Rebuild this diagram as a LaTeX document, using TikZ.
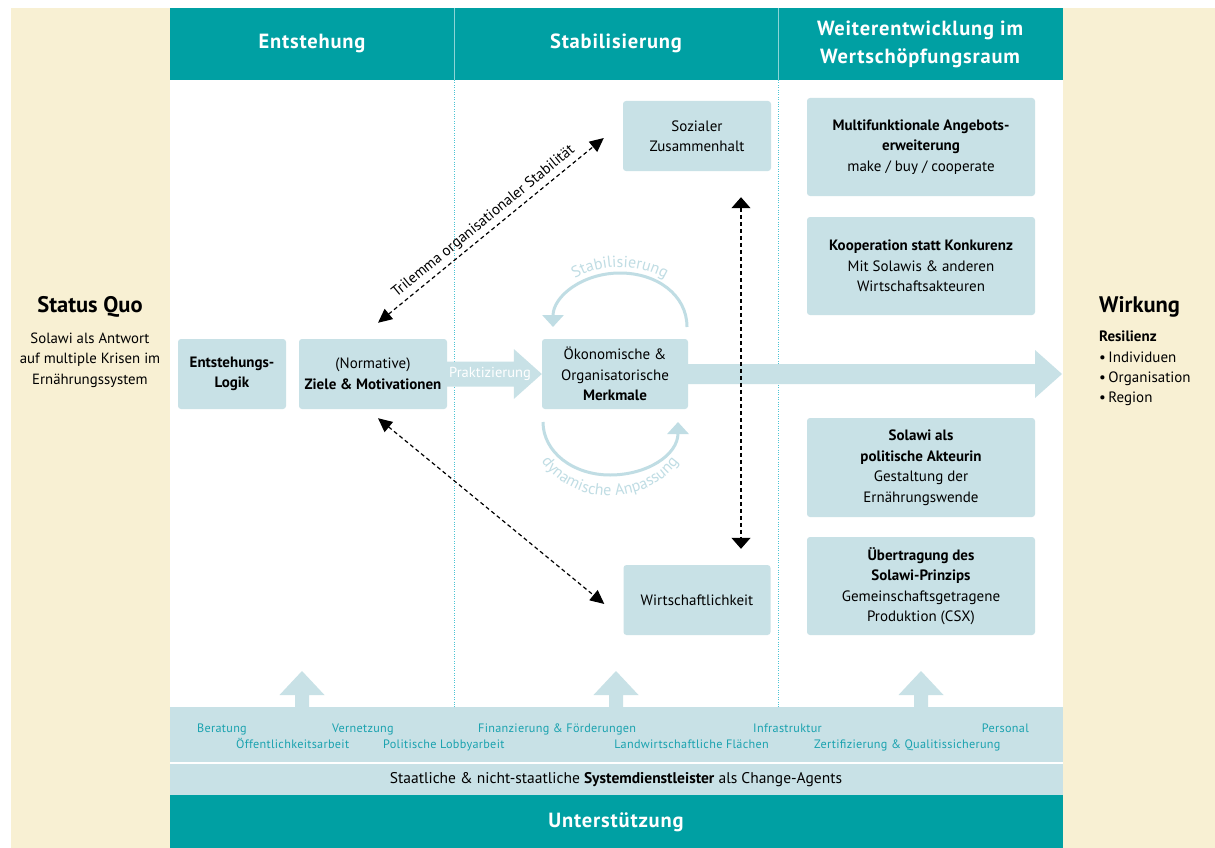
\documentclass[tikz,border=0pt]{standalone}
\usepackage{fontspec}
\setmainfont{PT Sans}
\newfontfamily\spaced[LetterSpace=4]{PT Sans}
\newfontfamily\spacedl[LetterSpace=2.5]{PT Sans}
\usetikzlibrary{arrows.meta,decorations.text,calc}
\definecolor{tealA}{HTML}{00A0A3}
\definecolor{lb}{HTML}{C8E1E6}
\definecolor{beigeA}{HTML}{F8F0D3}
\definecolor{bandtext}{HTML}{1AA2AF}
\definecolor{arcblue}{HTML}{C0DDE4}
\definecolor{dotc}{HTML}{4CC4D4}
\newcommand\boxfont{\fontsize{15}{20.5}\selectfont}
\newcommand\headfont{\spaced\bfseries\fontsize{20.5}{28}\selectfont}
\newcommand\bandfont{\spacedl\fontsize{12.2}{14}\selectfont}
\newcommand\arcfnt{\fontsize{16}{16}\selectfont\color{arcblue}}
\tikzset{
  box/.style={fill=lb, rounded corners=3pt, inner sep=0pt, align=center, font=\boxfont},
  headtext/.style={text=white, font=\headfont, align=center, inner sep=0pt},
  bandlabel/.style={text=bandtext, font=\bandfont, inner sep=0pt, anchor=base west},
  dasharrow/.style={black, line width=1.2pt, dash pattern=on 4pt off 3pt,
     {Triangle[length=14pt,width=13pt]}-{Triangle[length=14pt,width=13pt]}},
  vdasharrow/.style={black, line width=1.2pt, dash pattern=on 4pt off 3pt,
     {Triangle[length=11pt,width=19pt]}-{Triangle[length=11pt,width=19pt]}},
  arcarrow/.style={arcblue, line width=3pt, -{Triangle[length=12pt,width=21pt]}},
  divline/.style={dotc, line width=0.7pt, dash pattern=on 0.8pt off 1.6pt}
}
\begin{document}
\begin{tikzpicture}[x=1pt,y=-1pt]
\useasboundingbox (0,0) rectangle (1215,848);
\fill[white] (0,0) rectangle (1215,848);
% side columns
\fill[beigeA] (11,8) rectangle (170,848);
\fill[beigeA] (1063,8) rectangle (1215,848);
% header
\fill[tealA] (170,8) rectangle (1063,80);
\draw[white!55!tealA, line width=0.8pt] (454,8) -- (454,80) (778,8) -- (778,80);
\draw[divline] (454,80) -- (454,707) (778,80) -- (778,707);
\node[headtext] (h1) at (312,43) {Entstehung};
\node[headtext] (h2) at (616,43) {Stabilisierung};
\node[headtext] (h3) at (920,44) {Weiterentwicklung im\\Wertschöpfungsraum};
% bottom bands
\fill[lb] (170,707) rectangle (1063,762);
\fill[lb] (170,764) rectangle (1063,795);
\fill[tealA] (170,795) rectangle (1063,848);
\foreach \cx in {302,616,921}{
  \fill[lb] (\cx-7,708) -- (\cx-7,695) -- (\cx-22.5,695) -- (\cx,671) -- (\cx+22.5,695) -- (\cx+7,695) -- (\cx+7,708) -- cycle;
}
\node[bandlabel] (b1) at (197,732) {Beratung};
\node[bandlabel] (b2) at (332,732) {Vernetzung};
\node[bandlabel] (b3) at (478,732) {Finanzierung \& Förderungen};
\node[bandlabel] (b4) at (753,732) {Infrastruktur};
\node[bandlabel, anchor=base east] (b5) at (1029,732) {Personal};
\node[bandlabel] (b6) at (236,748.5) {Öffentlichkeitsarbeit};
\node[bandlabel] (b7) at (383,748.5) {Politische Lobbyarbeit};
\node[bandlabel, anchor=base east] (b8) at (769,748.5) {Landwirtschaftliche Flächen};
\node[bandlabel] (b9) at (814,748.5) {Zertifizierung \& Qualitissicherung};
\node[font=\fontsize{15.5}{17}\selectfont, inner sep=0pt] (sd) at (616,780) {Staatliche \& nicht-staatliche \textbf{Systemdienstleister} als Change-Agents};
\node[headtext] (unt) at (616,822) {Unterstützung};
% side texts
\node[font=\bfseries\fontsize{22.5}{26}\selectfont, inner sep=0pt] (sq) at (90,307) {Status Quo};
\node[font=\fontsize{14.8}{20.5}\selectfont, align=center, inner sep=0pt] (sqt) at (90,360) {Solawi als Antwort\\auf multiple Krisen im\\Ernährungssystem};
\node[font=\bfseries\fontsize{22.5}{26}\selectfont, inner sep=0pt, anchor=west] (wk) at (1099,307) {Wirkung};
\node[font=\fontsize{15}{20.4}\selectfont, align=left, inner sep=0pt, anchor=west] (wkt) at (1099,368.5) {\textbf{Resilienz}\\\textbullet\,Individuen\\\textbullet\,Organisation\\\textbullet\,Region};
% boxes
\node[box, minimum width=108pt, minimum height=70pt] (el) at (232,374) {\textbf{Entstehungs-}\\\textbf{Logik}};
\node[box, minimum width=148pt, minimum height=70pt] (ziele) at (373,374) {(Normative)\\\textbf{Ziele \& Motivationen}};
\node[box, minimum width=146pt, minimum height=70pt] (merk) at (615,374) {Ökonomische \&\\Organisatorische\\\textbf{Merkmale}};
\node[box, minimum width=148pt, minimum height=70pt] (soz) at (697,136) {Sozialer\\Zusammenhalt};
\node[box, minimum width=147pt, minimum height=70pt] (wirt) at (697,600) {Wirtschaftlichkeit};
\node[box, minimum width=228pt, minimum height=98pt] (r1) at (921,147) {\textbf{Multifunktionale Angebots-}\\\textbf{erweiterung}\\make / buy / cooperate};
\node[box, minimum width=228pt, minimum height=98pt] (r2) at (921,266) {\textbf{Kooperation statt Konkurenz}\\Mit Solawis \& anderen\\Wirtschaftsakteuren};
\node[box, minimum width=228pt, minimum height=99pt] (r3) at (921,467.5) {\textbf{Solawi als}\\\textbf{politische Akteurin}\\Gestaltung der\\Ernährungswende};
\node[box, minimum width=228pt, minimum height=98pt] (r4) at (921,586) {\textbf{Übertragung des}\\\textbf{Solawi-Prinzips}\\Gemeinschaftsgetragene\\Produktion (CSX)};
% Praktizierung arrow
\fill[lb] ($(ziele.east)+(0,-12.5)$) -- ($(merk.west)+(-28,-12.5)$) -- ($(merk.west)+(-28,-25)$) -- (merk.west) -- ($(merk.west)+(-28,25)$) -- ($(merk.west)+(-28,12.5)$) -- ($(ziele.east)+(0,12.5)$) -- cycle;
\node[text=white, font=\fontsize{14.5}{15}\selectfont, inner sep=0pt] (prak) at (490,374) {Praktizierung};
% big arrow to Wirkung
\coordinate (wtip) at (1062,374);
\fill[lb] ($(merk.east)+(0,-10)$) -- ($(wtip)+(-27,-10)$) -- ($(wtip)+(-27,-24)$) -- (wtip) -- ($(wtip)+(-27,24)$) -- ($(wtip)+(-27,10)$) -- ($(merk.east)+(0,10)$) -- cycle;
% Stabilisierung loop
\draw[arcarrow] (687,327) .. controls (687,295) and (657,273) .. (620,273) .. controls (583,273) and (553,296) .. (553,327);
\path[decorate, decoration={text along path, text align=center, text={|\arcfnt|Stabilisierung}}]
  (547,323) .. controls (547,292) and (580,267) .. (620,267) .. controls (660,267) and (693,292) .. (693,323);
% dynamische Anpassung loop
\draw[arcarrow] (543,422) .. controls (543,452) and (573,475) .. (610,475) .. controls (647,475) and (678,455) .. (678,422);
\path[decorate, decoration={text along path, text align=center, text={|\arcfnt|dynamische Anpassung}}]
  (528,420) .. controls (528,462) and (565,496) .. (610,496) .. controls (655,496) and (692,462) .. (692,420);
% Trilemma arrows
\draw[dasharrow] ($(ziele.north)+(5,-16)$) -- node[sloped, above, inner sep=4pt, font=\fontsize{15}{16}\selectfont, text=black] (tril) {Trilemma organisationaler Stabilität} ($(soz.west)+(-19,2)$);
\draw[dasharrow] ($(ziele.south)+(5,9)$) -- ($(wirt.west)+(-19,4)$);
\draw[vdasharrow] ($(soz.south)+(44,26)$) -- ($(wirt.north)+(44,-16)$);
\end{tikzpicture}
\end{document}
